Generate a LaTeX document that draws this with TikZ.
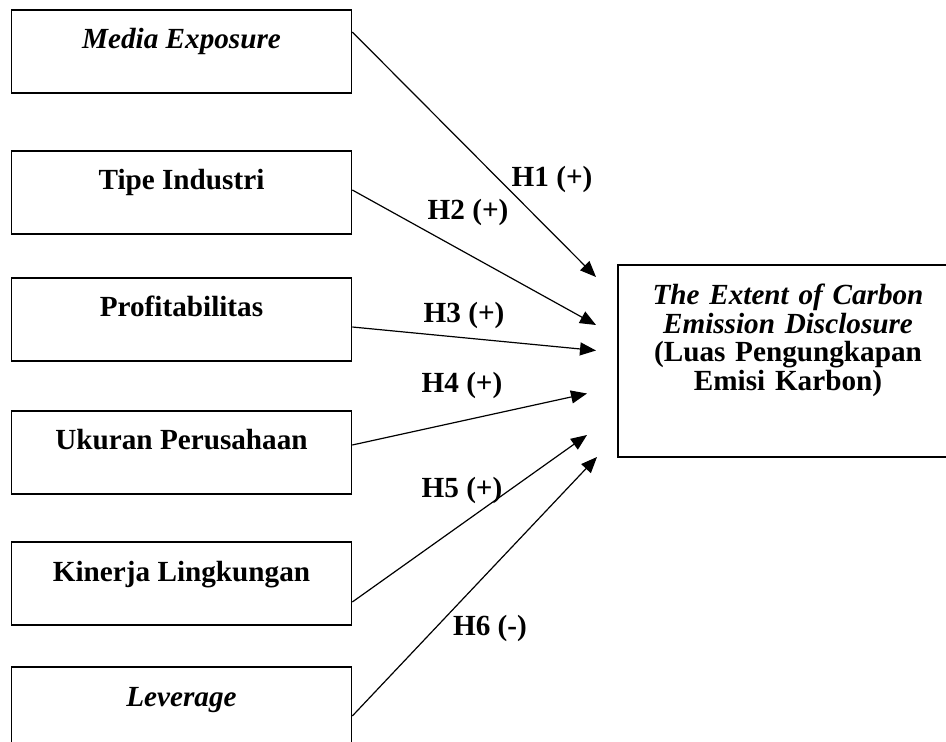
\documentclass[tikz,border=0pt]{standalone}
\usepackage{fontspec}
\setmainfont{Liberation Serif}
\usetikzlibrary{arrows.meta}

\begin{document}
\begin{tikzpicture}[
  x=0.5pt, y=-0.5pt,
  block_var/.style={rectangle, draw, line width=0.8pt, inner sep=0pt,
    minimum width=170pt, minimum height=41.5pt, text height=19.5pt, text depth=22pt,
    font=\fontsize{14.6pt}{14.2pt}\selectfont\bfseries},
  block_dep/.style={rectangle, draw, line width=0.8pt, inner sep=0pt,
    minimum width=170pt, minimum height=96pt, text width=166pt, align=center,
    font=\fontsize{14.6pt}{14.17pt}\selectfont\bfseries},
  hyp/.style={inner sep=0pt, anchor=base,
    font=\fontsize{14.6pt}{14.2pt}\selectfont\bfseries},
  link/.style={draw, line width=0.6pt, -{Triangle[length=8pt, width=6.5pt]}}
  ]

\useasboundingbox (0,0) rectangle (946,742);
\clip (0,0) rectangle (946,742);

% independent variables
\node [block_var] (media) at (181.5,51.5) {\textit{Media Exposure}};
\node [block_var] (tipe) at (181.5,192.5) {Tipe Industri};
\node [block_var] (profit) at (181.5,319.5) {Profitabilitas};
\node [block_var] (ukuran) at (181.5,452.5) {Ukuran Perusahaan};
\node [block_var] (kinerja) at (181.5,583.5) {Kinerja Lingkungan};
\node [block_var] (lev) at (181.5,708.5) {\textit{Leverage}};

% dependent variable
\node [block_dep] (ced) at (788,361) {\rule{0pt}{20pt}\textit{The Extent of Carbon}\\
  \textit{Emission Disclosure}\\ (Luas Pengungkapan\\
  Emisi Karbon)\rule[-33.5pt]{0pt}{33.5pt}};

\coordinate (t1) at (596,277);
\coordinate (t2) at (596,325);
\coordinate (t3) at (596,350.5);
\coordinate (t4) at (587,393.5);
\coordinate (t5) at (587,435);
\coordinate (t6) at (597,457);

\path [link] ([yshift=9.75pt]media.east) -- (t1);
\path [link] ([yshift=1.25pt]tipe.east) -- (t2);
\path [link] ([yshift=-3.75pt]profit.east) -- (t3);
\path [link] ([yshift=3.75pt]ukuran.east) -- (t4);
\path [link] ([yshift=-9.25pt]kinerja.east) -- (t5);
\path [link] ([yshift=-3.75pt]lev.east) -- (t6);

\node [hyp] (h1) at (552,186.7) {H1 (+)};
\node [hyp] (h2) at (468,220) {H2 (+)};
\node [hyp] (h3) at (464,323) {H3 (+)};
\node [hyp] (h4) at (462,393) {H4 (+)};
\node [hyp] (h5) at (462,497) {H5 (+)};
\node [hyp] (h6) at (490,635) {H6 (-)};

\end{tikzpicture}
\end{document}
